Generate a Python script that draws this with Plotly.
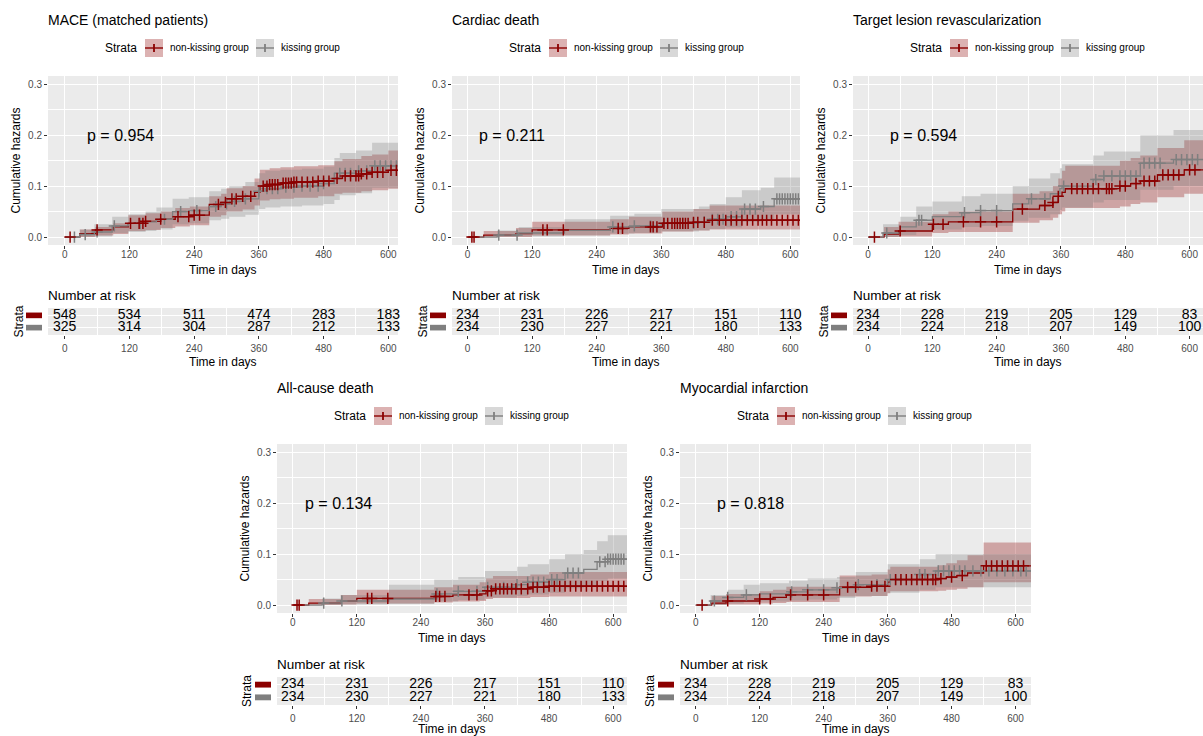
import plotly.graph_objects as go

# ---------------- data ----------------
titles = ["MACE (matched patients)", "Cardiac death", "Target lesion revascularization",
          "All-cause death", "Myocardial infarction"]
p_values = ["p = 0.954", "p = 0.211", "p = 0.594", "p = 0.134", "p = 0.818"]
risk_times = [0, 120, 240, 360, 480, 600]
group_names = ["non-kissing group", "kissing group"]
end_time = 630

# MACE
mace_red_t = [0, 28, 57, 90, 118, 150, 178, 205, 232, 268, 290, 300, 330, 352, 362, 380, 400, 425, 470, 500, 515, 550, 570, 600]
mace_red_h = [0, 0.007, 0.014, 0.02, 0.027, 0.031, 0.035, 0.04, 0.043, 0.064, 0.068, 0.075, 0.08, 0.088, 0.1, 0.103, 0.106, 0.108, 0.11, 0.115, 0.12, 0.124, 0.127, 0.131]
mace_red_lo = [0, 0, 0.003, 0.006, 0.012, 0.014, 0.018, 0.021, 0.023, 0.04, 0.043, 0.05, 0.054, 0.062, 0.072, 0.074, 0.075, 0.077, 0.08, 0.085, 0.087, 0.09, 0.092, 0.095]
mace_red_hi = [0, 0.015, 0.02, 0.027, 0.043, 0.047, 0.05, 0.057, 0.06, 0.08, 0.085, 0.096, 0.1, 0.115, 0.132, 0.135, 0.137, 0.139, 0.141, 0.149, 0.153, 0.159, 0.162, 0.17]
mace_red_cens = [10, 60, 122, 138, 145, 150, 178, 210, 230, 240, 250, 285, 298, 310, 318, 330, 345, 368, 375, 380, 385, 390, 395, 405, 410, 415, 420, 425, 430, 440, 450, 460, 470, 480, 490, 505, 520, 530, 540, 545, 550, 560, 570, 580, 590, 605, 615]
mace_gray_t = [0, 28, 55, 88, 118, 150, 170, 200, 230, 268, 290, 305, 335, 360, 372, 400, 440, 480, 500, 510, 540, 570]
mace_gray_h = [0, 0.005, 0.01, 0.022, 0.027, 0.03, 0.035, 0.05, 0.052, 0.06, 0.065, 0.07, 0.075, 0.09, 0.095, 0.098, 0.1, 0.105, 0.115, 0.125, 0.13, 0.14]
mace_gray_lo = [0, 0, 0.001, 0.008, 0.01, 0.012, 0.015, 0.025, 0.027, 0.033, 0.036, 0.04, 0.044, 0.055, 0.058, 0.06, 0.062, 0.065, 0.073, 0.082, 0.086, 0.097]
mace_gray_hi = [0, 0.015, 0.025, 0.04, 0.045, 0.05, 0.058, 0.075, 0.078, 0.09, 0.095, 0.1, 0.108, 0.125, 0.13, 0.132, 0.134, 0.138, 0.155, 0.165, 0.17, 0.185]
mace_gray_cens = [18, 38, 60, 92, 140, 185, 215, 245, 280, 300, 315, 335, 360, 375, 385, 395, 410, 425, 440, 455, 470, 480, 500, 510, 520, 530, 545, 560, 575, 585, 595, 605, 615]

# Cardiac death
cd_red_t = [0, 30, 90, 120, 265, 300, 362, 420, 450]
cd_red_h = [0, 0.004, 0.007, 0.014, 0.017, 0.02, 0.027, 0.029, 0.033]
cd_red_lo = [0, 0, 0, 0.003, 0.005, 0.007, 0.011, 0.013, 0.015]
cd_red_hi = [0, 0.012, 0.018, 0.03, 0.035, 0.04, 0.05, 0.055, 0.062]
cd_red_cens = [8, 12, 140, 148, 178, 280, 288, 340, 345, 352, 365, 372, 380, 385, 390, 395, 400, 405, 410, 420, 428, 440, 455, 468, 480, 490, 500, 510, 520, 530, 540, 548, 556, 565, 575, 585, 595, 605, 615]
cd_gray_t = [0, 55, 95, 180, 265, 310, 360, 430, 450, 480, 510, 545, 570]
cd_gray_h = [0, 0.004, 0.008, 0.013, 0.02, 0.022, 0.027, 0.03, 0.035, 0.04, 0.055, 0.06, 0.075]
cd_gray_lo = [0, 0, 0.001, 0.003, 0.007, 0.008, 0.011, 0.013, 0.016, 0.019, 0.03, 0.033, 0.045]
cd_gray_hi = [0, 0.013, 0.02, 0.035, 0.042, 0.046, 0.055, 0.06, 0.065, 0.078, 0.092, 0.097, 0.117]
cd_gray_cens = [58, 92, 270, 310, 340, 365, 400, 420, 440, 455, 465, 475, 490, 500, 515, 525, 535, 550, 575, 580, 585, 590, 595, 600, 605, 610, 615]

# Target lesion revascularization
tlr_red_t = [0, 30, 57, 120, 150, 270, 320, 345, 355, 362, 368, 470, 490, 508, 540, 590]
tlr_red_h = [0, 0.006, 0.012, 0.025, 0.03, 0.055, 0.062, 0.068, 0.08, 0.088, 0.095, 0.1, 0.105, 0.11, 0.122, 0.132]
tlr_red_lo = [0, 0, 0.001, 0.008, 0.01, 0.028, 0.033, 0.038, 0.045, 0.05, 0.057, 0.06, 0.065, 0.068, 0.078, 0.085]
tlr_red_hi = [0, 0.02, 0.03, 0.045, 0.05, 0.085, 0.09, 0.1, 0.115, 0.13, 0.14, 0.15, 0.155, 0.16, 0.175, 0.19]
tlr_red_cens = [12, 60, 122, 140, 178, 210, 240, 288, 330, 345, 355, 380, 390, 400, 410, 420, 430, 445, 450, 455, 470, 480, 500, 515, 525, 535, 550, 560, 570, 580, 600, 610]
tlr_gray_t = [0, 28, 60, 90, 120, 175, 210, 270, 300, 340, 358, 362, 420, 440, 508, 570]
tlr_gray_h = [0, 0.008, 0.02, 0.033, 0.04, 0.048, 0.052, 0.065, 0.075, 0.085, 0.095, 0.1, 0.113, 0.12, 0.145, 0.152]
tlr_gray_lo = [0, 0, 0.004, 0.011, 0.015, 0.02, 0.022, 0.032, 0.038, 0.045, 0.053, 0.058, 0.068, 0.073, 0.093, 0.1]
tlr_gray_hi = [0, 0.025, 0.04, 0.06, 0.07, 0.08, 0.085, 0.1, 0.115, 0.125, 0.135, 0.143, 0.16, 0.168, 0.2, 0.21]
tlr_gray_cens = [35, 95, 100, 180, 210, 240, 305, 330, 365, 425, 440, 455, 470, 480, 490, 500, 515, 525, 535, 545, 575, 585, 595, 605, 615]

# All-cause death
ac_red_t = [0, 30, 90, 120, 265, 300, 350, 362, 375, 445, 480]
ac_red_h = [0, 0.004, 0.008, 0.013, 0.017, 0.02, 0.022, 0.028, 0.032, 0.035, 0.037]
ac_red_lo = [0, 0, 0.001, 0.003, 0.005, 0.007, 0.008, 0.012, 0.014, 0.016, 0.017]
ac_red_hi = [0, 0.012, 0.02, 0.03, 0.035, 0.04, 0.045, 0.052, 0.057, 0.06, 0.065]
ac_red_cens = [8, 12, 140, 148, 178, 268, 275, 285, 330, 345, 365, 372, 380, 388, 395, 402, 410, 418, 428, 440, 450, 458, 470, 480, 490, 500, 510, 520, 530, 540, 550, 560, 570, 580, 590, 600, 610, 620]
ac_gray_t = [0, 55, 90, 180, 265, 310, 360, 420, 440, 480, 510, 545, 570, 590]
ac_gray_h = [0, 0.004, 0.008, 0.012, 0.022, 0.027, 0.035, 0.04, 0.045, 0.05, 0.063, 0.07, 0.085, 0.09]
ac_gray_lo = [0, 0, 0.001, 0.002, 0.007, 0.01, 0.015, 0.018, 0.021, 0.024, 0.033, 0.037, 0.048, 0.052]
ac_gray_hi = [0, 0.013, 0.02, 0.04, 0.05, 0.055, 0.067, 0.075, 0.08, 0.09, 0.1, 0.108, 0.125, 0.137]
ac_gray_cens = [58, 92, 270, 310, 345, 365, 395, 420, 440, 450, 460, 470, 485, 495, 515, 525, 535, 575, 585, 590, 595, 600, 605, 610, 615, 620]

# Myocardial infarction
mi_red_t = [0, 30, 57, 120, 145, 170, 270, 330, 360, 365, 455, 470, 490, 510, 540]
mi_red_h = [0, 0.004, 0.008, 0.012, 0.015, 0.02, 0.035, 0.037, 0.045, 0.05, 0.052, 0.055, 0.058, 0.063, 0.077]
mi_red_lo = [0, 0, 0.001, 0.003, 0.004, 0.006, 0.017, 0.018, 0.023, 0.027, 0.028, 0.03, 0.032, 0.035, 0.045]
mi_red_hi = [0, 0.018, 0.022, 0.027, 0.03, 0.036, 0.058, 0.06, 0.07, 0.075, 0.078, 0.082, 0.088, 0.098, 0.123]
mi_red_cens = [12, 60, 120, 140, 178, 210, 240, 285, 300, 330, 340, 355, 375, 385, 395, 405, 415, 425, 435, 445, 450, 460, 480, 500, 545, 555, 565, 575, 585, 595, 605, 615]
mi_gray_t = [0, 28, 60, 90, 120, 175, 210, 265, 300, 360, 420, 450]
mi_gray_h = [0, 0.008, 0.015, 0.02, 0.022, 0.026, 0.03, 0.034, 0.04, 0.05, 0.06, 0.067]
mi_gray_lo = [0, 0, 0.003, 0.006, 0.007, 0.009, 0.011, 0.014, 0.018, 0.024, 0.03, 0.035]
mi_gray_hi = [0, 0.02, 0.03, 0.04, 0.043, 0.048, 0.052, 0.055, 0.065, 0.08, 0.09, 0.1]
mi_gray_cens = [35, 60, 95, 180, 210, 240, 265, 305, 340, 365, 375, 420, 430, 455, 465, 475, 485, 495, 505, 520, 535, 550, 565, 580, 595, 610, 620]

# Number at risk
mace_risk_red = [548, 534, 511, 474, 283, 183]
mace_risk_gray = [325, 314, 304, 287, 212, 133]
cd_risk_red = [234, 231, 226, 217, 151, 110]
cd_risk_gray = [234, 230, 227, 221, 180, 133]
tlr_risk_red = [234, 228, 219, 205, 129, 83]
tlr_risk_gray = [234, 224, 218, 207, 149, 100]
ac_risk_red = [234, 231, 226, 217, 151, 110]
ac_risk_gray = [234, 230, 227, 221, 180, 133]
mi_risk_red = [234, 228, 219, 205, 129, 83]
mi_risk_gray = [234, 224, 218, 207, 149, 100]

# ---------------- style / layout ----------------
W, H = 1203, 736
RED, GRAY = "#8B0000", "#7F7F7F"
RED_FILL, GRAY_FILL = "rgba(139,0,0,0.3)", "rgba(127,127,127,0.3)"
FONT = "Liberation Sans, Arial, sans-serif"
BG = "#EBEBEB"
p_x = [40, 21, 40, 23, 40]
# (left, right, plot top, plot bottom, table top, table bottom, table-title offset) in screen px
boxes = [(48, 398, 76, 245, 308, 335, 27), (452, 800, 76, 245, 308, 335, 27), (853, 1203, 76, 245, 308, 335, 27),
         (277, 627, 444, 613, 677, 705, 24), (680, 1031, 444, 613, 677, 705, 24)]
x_ranges = [[-31, 618], [-29, 618], [-28, 625], [-29.5, 626], [-29.5, 629]]
y_range = [-0.0155, 0.316]
t_range = [0.4, 2.6]

panels = [
    dict(red=(mace_red_t, mace_red_h, mace_red_lo, mace_red_hi, mace_red_cens),
         gray=(mace_gray_t, mace_gray_h, mace_gray_lo, mace_gray_hi, mace_gray_cens),
         risk=(mace_risk_red, mace_risk_gray)),
    dict(red=(cd_red_t, cd_red_h, cd_red_lo, cd_red_hi, cd_red_cens),
         gray=(cd_gray_t, cd_gray_h, cd_gray_lo, cd_gray_hi, cd_gray_cens),
         risk=(cd_risk_red, cd_risk_gray)),
    dict(red=(tlr_red_t, tlr_red_h, tlr_red_lo, tlr_red_hi, tlr_red_cens),
         gray=(tlr_gray_t, tlr_gray_h, tlr_gray_lo, tlr_gray_hi, tlr_gray_cens),
         risk=(tlr_risk_red, tlr_risk_gray)),
    dict(red=(ac_red_t, ac_red_h, ac_red_lo, ac_red_hi, ac_red_cens),
         gray=(ac_gray_t, ac_gray_h, ac_gray_lo, ac_gray_hi, ac_gray_cens),
         risk=(ac_risk_red, ac_risk_gray)),
    dict(red=(mi_red_t, mi_red_h, mi_red_lo, mi_red_hi, mi_red_cens),
         gray=(mi_gray_t, mi_gray_h, mi_gray_lo, mi_gray_hi, mi_gray_cens),
         risk=(mi_risk_red, mi_risk_gray)),
]


def px(v):
    return v / W


def py(v):
    return 1 - v / H


def ref(letter, n):
    return letter if n == 1 else f"{letter}{n}"


def key(letter, n):
    return f"{letter}axis" if n == 1 else f"{letter}axis{n}"


def step_at(t, h, c):
    v = h[0]
    for ti, hi in zip(t, h):
        if ti <= c:
            v = hi
    return v


fig = go.Figure()
annotations, shapes = [], []
layout = {}

for i, P in enumerate(panels):
    n = i + 1
    tn = i + 6
    l, r, top, bot, ttop, tbot, toff = boxes[i]
    xr, yr = ref("x", n), ref("y", n)
    txr, tyr = ref("x", tn), ref("y", tn)

    # ribbons
    for grp, fill in ((P["red"], RED_FILL), (P["gray"], GRAY_FILL)):
        t, h, lo, hi, cens = grp
        xs = t + [end_time]
        fig.add_trace(go.Scatter(x=xs, y=lo + [lo[-1]], mode="lines", line=dict(width=0, shape="hv"),
                                 xaxis=xr, yaxis=yr, showlegend=False, hoverinfo="skip"))
        fig.add_trace(go.Scatter(x=xs, y=hi + [hi[-1]], mode="lines", line=dict(width=0, shape="hv"),
                                 fill="tonexty", fillcolor=fill, xaxis=xr, yaxis=yr,
                                 showlegend=False, hoverinfo="skip"))
    # lines and censor marks
    for grp, col in ((P["red"], RED), (P["gray"], GRAY)):
        t, h, lo, hi, cens = grp
        fig.add_trace(go.Scatter(x=t + [end_time], y=h + [h[-1]], mode="lines",
                                 line=dict(color=col, width=1.3, shape="hv"),
                                 xaxis=xr, yaxis=yr, showlegend=False))
    for grp, col in ((P["gray"], GRAY), (P["red"], RED)):
        t, h, lo, hi, cens = grp
        fig.add_trace(go.Scatter(x=cens, y=[step_at(t, h, c) for c in cens], mode="markers",
                                 marker=dict(symbol="cross-thin", size=8, line=dict(color=col, width=1.5)),
                                 xaxis=xr, yaxis=yr, showlegend=False))
    # risk table text
    rr, rg = P["risk"]
    fig.add_trace(go.Scatter(x=risk_times, y=[2] * len(rr), mode="text", text=[str(v) for v in rr],
                             textfont=dict(size=14, color="black", family=FONT),
                             xaxis=txr, yaxis=tyr, showlegend=False, cliponaxis=False))
    fig.add_trace(go.Scatter(x=risk_times, y=[1] * len(rg), mode="text", text=[str(v) for v in rg],
                             textfont=dict(size=14, color="black", family=FONT),
                             xaxis=txr, yaxis=tyr, showlegend=False, cliponaxis=False))

    common_x = dict(range=x_ranges[i], tick0=0, dtick=120, showgrid=True, gridcolor="white", gridwidth=1.1,
                    minor=dict(dtick=60, tick0=0, showgrid=True, gridcolor="white", gridwidth=0.55),
                    ticks="outside", ticklen=3, tickcolor="#333333", tickwidth=1,
                    tickfont=dict(size=10, color="#4D4D4D"), zeroline=False, showline=False,
                    fixedrange=True, automargin=False)
    layout[key("x", n)] = dict(common_x, domain=[px(l), px(r)], anchor=yr, ticklabelstandoff=-3)
    layout[key("y", n)] = dict(domain=[py(bot), py(top)], range=y_range, anchor=xr, tick0=0, dtick=0.1,
                               tickformat=".1f", showgrid=True, gridcolor="white", gridwidth=1.1,
                               minor=dict(dtick=0.05, tick0=0, showgrid=True, gridcolor="white", gridwidth=0.55),
                               ticks="outside", ticklen=3, tickcolor="#333333",
                               tickfont=dict(size=10, color="#4D4D4D"), zeroline=False, showline=False,
                               fixedrange=True, automargin=False)
    layout[key("x", tn)] = dict(common_x, domain=[px(l), px(r)], anchor=tyr, ticklabelstandoff=1)
    layout[key("y", tn)] = dict(domain=[py(tbot), py(ttop)], range=t_range, anchor=txr, tickvals=[1, 2],
                                showticklabels=False, ticks="", showgrid=True, gridcolor="white",
                                gridwidth=1.1, zeroline=False, fixedrange=True, automargin=False)

    cx = (l + r) / 2
    txt = dict(size=12, color="black", family=FONT)
    annotations += [
        dict(text=titles[i], x=px(l - 2), y=py(top - 56), xref="paper", yref="paper", xanchor="left",
             yanchor="middle", showarrow=False, font=dict(size=14, color="black", family=FONT)),
        dict(text=p_values[i], x=p_x[i] - 3, y=0.2, xref=xr, yref=yr, xanchor="left", yanchor="middle",
             showarrow=False, font=dict(size=16, color="black", family=FONT)),
        dict(text="Cumulative hazards", x=px(l - 33), y=py((top + bot) / 2), xref="paper", yref="paper",
             textangle=-90, xanchor="center", yanchor="middle", showarrow=False, font=txt),
        dict(text="Time in days", x=px(cx), y=py(bot + 25), xref="paper", yref="paper",
             xanchor="center", yanchor="middle", showarrow=False, font=txt),
        dict(text="Number at risk", x=px(l - 2), y=py(ttop - 13), xref="paper", yref="paper",
             xanchor="left", yanchor="middle", showarrow=False, font=dict(size=13.5, color="black", family=FONT)),
        dict(text="Time in days", x=px(cx), y=py(tbot + toff), xref="paper", yref="paper",
             xanchor="center", yanchor="middle", showarrow=False, font=txt),
        dict(text="Strata", x=px(l - 30), y=py((ttop + tbot) / 2), xref="paper", yref="paper",
             textangle=-90, xanchor="center", yanchor="middle", showarrow=False, font=txt),
        # legend
        dict(text="Strata", x=px(l + 55), y=py(top - 28), xref="paper", yref="paper",
             xanchor="left", yanchor="middle", showarrow=False, font=txt),
        dict(text=group_names[0], x=px(l + 120), y=py(top - 28), xref="paper", yref="paper",
             xanchor="left", yanchor="middle", showarrow=False, font=dict(size=10, color="black", family=FONT)),
        dict(text=group_names[1], x=px(l + 231), y=py(top - 28), xref="paper", yref="paper",
             xanchor="left", yanchor="middle", showarrow=False, font=dict(size=10, color="black", family=FONT)),
    ]
    cy = top - 28
    for x0, fill, col in ((l + 97, RED_FILL, RED), (l + 208, GRAY_FILL, GRAY)):
        shapes.append(dict(type="rect", xref="paper", yref="paper", x0=px(x0), x1=px(x0 + 18),
                           y0=py(cy + 9), y1=py(cy - 9), fillcolor=fill, line=dict(width=0)))
        shapes.append(dict(type="line", xref="paper", yref="paper", x0=px(x0), x1=px(x0 + 18),
                           y0=py(cy), y1=py(cy), line=dict(color=col, width=1.4)))
        shapes.append(dict(type="line", xref="paper", yref="paper", x0=px(x0 + 9), x1=px(x0 + 9),
                           y0=py(cy + 4), y1=py(cy - 4), line=dict(color=col, width=1.8)))
    # strata colour bars of the table
    for row, col in ((2, RED), (1, GRAY)):
        shapes.append(dict(type="rect", xref="paper", yref=tyr, x0=px(l - 22), x1=px(l - 6),
                           y0=row - 0.23, y1=row + 0.23, fillcolor=col, line=dict(width=0)))

fig.update_layout(**layout)
fig.update_layout(width=W, height=H, margin=dict(l=0, r=0, t=0, b=0), paper_bgcolor="white",
                  plot_bgcolor=BG, font=dict(family=FONT, color="black"), showlegend=False,
                  annotations=annotations, shapes=shapes)
fig.write_html("out.html", config={"displayModeBar": False},
               post_script="document.body.style.margin='0px';document.body.style.overflow='hidden';")
